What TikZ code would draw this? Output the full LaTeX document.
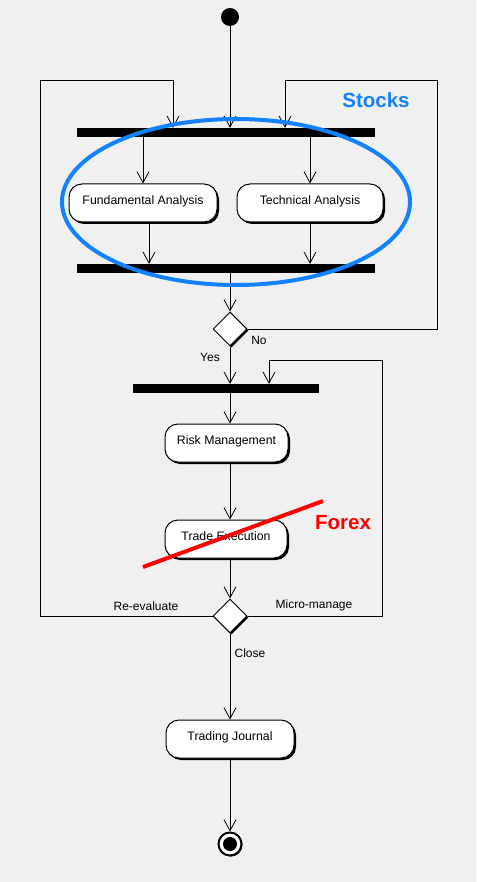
\documentclass[tikz,border=0pt]{standalone}
\usepackage{fontspec}
\setmainfont{Liberation Sans}
\usetikzlibrary{arrows.meta,shapes.geometric,shadows}
\definecolor{bg}{RGB}{240,240,240}
\definecolor{stockblue}{RGB}{20,130,255}
\definecolor{forexred}{RGB}{255,0,0}
\tikzset{
  activity/.style={draw, line width=1pt, fill=white, rounded corners=13pt,
    minimum height=38pt, inner xsep=4pt, text height=7pt, text depth=4pt,
    font=\fontsize{12.3}{14}\selectfont,
    drop shadow={shadow xshift=2pt, shadow yshift=-2pt, fill=black, opacity=1}},
  bar/.style={fill=black, inner sep=0pt, minimum height=9pt},
  decision/.style={diamond, draw, line width=1pt, fill=white, inner sep=0pt,
    minimum size=34pt,
    drop shadow={shadow xshift=1.5pt, shadow yshift=-1.5pt, fill=black, opacity=1}},
  flow/.style={-{Straight Barb[length=11pt,width=12pt]}, line width=0.8pt},
  lbl/.style={font=\fontsize{12}{14}\selectfont, inner sep=1pt},
  tag/.style={font=\bfseries\fontsize{20.5}{24}\selectfont, inner sep=0pt}
}
\begin{document}
\begin{tikzpicture}[x=1pt, y=-1pt]
  \useasboundingbox[fill=bg] (0,0) rectangle (476,882);
  % nodes
  \node[circle, fill=black, minimum size=18pt, inner sep=0pt] (start) at (230,17) {};
  \node[bar, minimum width=298pt] (fork) at (226,132.5) {};
  \node[activity, minimum width=148pt] (fund) at (143,203) {Fundamental Analysis};
  \node[activity, minimum width=146pt] (tech) at (310,203) {Technical Analysis};
  \node[bar, minimum width=298pt] (join) at (226,268.5) {};
  \node[decision] (check) at (230,329) {};
  \node[bar, minimum width=186pt] (sync) at (226,388.5) {};
  \node[activity, minimum width=123pt] (risk) at (226.5,443) {Risk Management};
  \node[activity, minimum width=122pt] (trade) at (226,539) {Trade Execution};
  \node[decision] (review) at (230,616) {};
  \node[activity, minimum width=128pt] (journal) at (230,739) {Trading Journal};
  \node[circle, draw, line width=2pt, fill=white, minimum size=23pt, inner sep=0pt,
    drop shadow={shadow xshift=1pt, shadow yshift=-1pt, fill=black, opacity=1}] (stop) at (230,844) {};
  \node[circle, fill=black, minimum size=14pt, inner sep=0pt] (stopdot) at (stop) {};
  % loop corners
  \coordinate (noR) at (437,80);
  \coordinate (noIn) at (285,80);
  \coordinate (reL) at (40,80);
  \coordinate (reIn) at (173,80);
  \coordinate (mmR) at (382,360);
  \coordinate (mmIn) at (269,360);
  % flows
  \draw[flow] (start) -- (start |- fork.north);
  \draw[flow] (fund |- fork.south) -- (fund);
  \draw[flow] (tech |- fork.south) -- (tech);
  \draw[flow] ([xshift=6pt]fund.south) -- ([xshift=6pt]fund.south |- join.north);
  \draw[flow] (tech) -- (tech |- join.north);
  \draw[flow] (check |- join.south) -- (check);
  \draw[flow] (check.east) -| (noR) -- (noIn) -- (noIn |- fork.north);
  \draw[flow] (check.south) -- (check.south |- sync.north);
  \draw[flow] (check |- sync.south) -- (check |- risk.north);
  \draw[flow] (check |- risk.south) -- (check |- trade.north);
  \draw[flow] (check |- trade.south) -- (review);
  \draw[flow] (review.west) -| (reL) -- (reIn) -- (reIn |- fork.north);
  \draw[flow] (review.east) -| (mmR) -- (mmIn) -- (mmIn |- sync.north);
  \draw[flow] (review) -- (journal);
  \draw[flow] (journal) -- (stop);
  % labels
  \node[lbl] (yes) at (210,357) {Yes};
  \node[lbl] (no) at (259,340) {No};
  \node[lbl] (reevaluate) at (146,606) {Re-evaluate};
  \node[lbl] (micromanage) at (314,605) {Micro-manage};
  \node[lbl] (close) at (250,653) {Close};
  % markup
  \node[ellipse, draw=stockblue, line width=4pt, minimum width=348pt,
    minimum height=166pt] (stocksring) at (236,202) {};
  \node[tag, text=stockblue] (stocks) at (376,100) {Stocks};
  \draw[forexred, line width=4pt] (143,567) -- (323,501);
  \node[tag, text=forexred] (forex) at (343,523) {Forex};
\end{tikzpicture}
\end{document}
